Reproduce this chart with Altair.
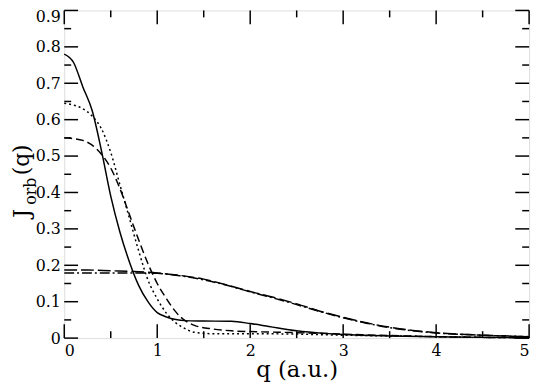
import altair as alt
import pandas as pd

# ---- data ----
solid_q = [0, 0.1, 0.2, 0.3, 0.4, 0.5, 0.6, 0.7, 0.8, 0.9, 1.0, 1.1, 1.2, 1.3, 1.5, 1.8, 2.0, 2.2, 2.5, 2.8, 3.0, 3.5, 4.0, 4.5, 5.0]
solid_v = [0.78, 0.757, 0.69, 0.625, 0.515, 0.39, 0.29, 0.21, 0.145, 0.10, 0.07, 0.058, 0.051, 0.048, 0.047, 0.046, 0.040, 0.032, 0.020, 0.013, 0.010, 0.006, 0.004, 0.002, 0.001]

dot_q = [0, 0.1, 0.2, 0.3, 0.4, 0.5, 0.6, 0.7, 0.8, 0.9, 1.0, 1.1, 1.2, 1.3, 1.4, 1.6, 2.0, 2.5, 3.0, 3.5, 4.0, 4.5, 5.0]
dot_v = [0.645, 0.64, 0.63, 0.61, 0.575, 0.51, 0.42, 0.33, 0.24, 0.16, 0.108, 0.068, 0.042, 0.026, 0.016, 0.012, 0.012, 0.011, 0.008, 0.006, 0.004, 0.002, 0.001]

dash_q = [0, 0.1, 0.2, 0.3, 0.4, 0.5, 0.6, 0.7, 0.8, 0.9, 1.0, 1.1, 1.2, 1.3, 1.4, 1.6, 1.8, 2.0, 2.5, 3.0, 3.5, 4.0, 4.5, 5.0]
dash_v = [0.55, 0.548, 0.543, 0.53, 0.505, 0.467, 0.41, 0.34, 0.27, 0.205, 0.15, 0.108, 0.072, 0.048, 0.035, 0.025, 0.02, 0.018, 0.015, 0.011, 0.007, 0.004, 0.002, 0.001]

flat_q = [0, 0.25, 0.5, 0.75, 1.0, 1.25, 1.5, 1.75, 2.0, 2.25, 2.5, 2.75, 3.0, 3.25, 3.5, 3.75, 4.0, 4.5, 5.0]
longdash_v = [0.187, 0.187, 0.185, 0.183, 0.179, 0.172, 0.162, 0.146, 0.128, 0.112, 0.094, 0.074, 0.057, 0.042, 0.030, 0.021, 0.015, 0.008, 0.004]
dashdot_v = [0.179, 0.179, 0.179, 0.179, 0.178, 0.171, 0.160, 0.145, 0.127, 0.110, 0.092, 0.073, 0.056, 0.041, 0.029, 0.020, 0.014, 0.008, 0.004]

x_major = [0, 1, 2, 3, 4, 5]
x_minor = [0.5, 1.5, 2.5, 3.5, 4.5]
y_major = [0, 0.1, 0.2, 0.3, 0.4, 0.5, 0.6, 0.7, 0.8, 0.9]
y_minor = [0.05, 0.15, 0.25, 0.35, 0.45, 0.55, 0.65, 0.75, 0.85]

x_title = "q (a.u.)"
y_title_parts = ["J", "orb", "(q)"]

W, H = 471, 332
FONT = "DejaVu Serif"

xs = alt.Scale(domain=[0, 5], nice=False, zero=False)
ys = alt.Scale(domain=[0, 0.9], nice=False, zero=False)

xaxis = alt.Axis(values=x_major, format="d", ticks=False, domain=False, grid=False,
                 labelFont=FONT, labelFontSize=16, labelPadding=5, labelColor="black",
                 title=x_title, titleFont=FONT, titleFontSize=23, titleFontWeight="normal",
                 titleColor="black", titleY=39, titleBaseline="alphabetic")
yaxis = alt.Axis(values=y_major, ticks=False, domain=False, grid=False,
                 labelExpr="datum.value == 0 ? '0' : format(datum.value, '.1f')",
                 labelOffset=alt.ExprRef(expr="datum.value > 0.85 ? 6 : 0"),
                 labelFont=FONT, labelFontSize=16, labelPadding=4, labelColor="black",
                 title=None)

def X():
    return alt.X("q:Q", scale=xs, axis=xaxis)

def Y():
    return alt.Y("v:Q", scale=ys, axis=yaxis)

def line(qs, vs, dash=None):
    df = pd.DataFrame({"q": qs, "v": vs})
    kw = dict(color="black", strokeWidth=1.5, interpolate="monotone")
    if dash:
        kw["strokeDash"] = dash
    return alt.Chart(df).mark_line(**kw).encode(x=X(), y=Y())

layers = [
    line(solid_q, solid_v),
    line(dot_q, dot_v, [2, 3]),
    line(dash_q, dash_v, [8, 4]),
    line(flat_q, longdash_v, [13, 4]),
    line(flat_q, dashdot_v, [10, 3, 2, 3]),
]

# inward ticks on all four sides
xmaj = pd.DataFrame({"q": x_major})
xmin = pd.DataFrame({"q": x_minor})
ymaj = pd.DataFrame({"v": y_major})
ymin = pd.DataFrame({"v": y_minor})
tk = dict(color="black", strokeWidth=1.5)
for df, L in [(xmaj, 14), (xmin, 7)]:
    layers.append(alt.Chart(df).mark_rule(**tk).encode(x=X(), y=alt.value(H), y2=alt.value(H - L)))
    layers.append(alt.Chart(df).mark_rule(**tk).encode(x=X(), y=alt.value(0), y2=alt.value(L)))
for df, L in [(ymaj, 14), (ymin, 7)]:
    layers.append(alt.Chart(df).mark_rule(**tk).encode(y=Y(), x=alt.value(0), x2=alt.value(L)))
    layers.append(alt.Chart(df).mark_rule(**tk).encode(y=Y(), x=alt.value(W - L), x2=alt.value(W)))

# y-axis title with subscript
layers.append(alt.Chart(pd.DataFrame({"t": [y_title_parts[0]]})).mark_text(
    font=FONT, fontSize=22, angle=270, align="left", baseline="alphabetic", color="black"
).encode(text="t:N", x=alt.value(-36), y=alt.value(210)))
layers.append(alt.Chart(pd.DataFrame({"t": [y_title_parts[1]]})).mark_text(
    font=FONT, fontSize=16, angle=270, align="left", baseline="alphabetic", color="black"
).encode(text="t:N", x=alt.value(-29), y=alt.value(197)))
layers.append(alt.Chart(pd.DataFrame({"t": [y_title_parts[2]]})).mark_text(
    font=FONT, fontSize=22, angle=270, align="left", baseline="alphabetic", color="black"
).encode(text="t:N", x=alt.value(-36), y=alt.value(167)))

chart = alt.layer(*layers).properties(
    width=W, height=H,
    autosize=alt.AutoSizeParams(type="none"),
    padding={"left": 57, "top": 0, "right": 8, "bottom": 42},
).configure_view(stroke="black", strokeWidth=2).configure(background="white")

chart.save("out.html", embed_options={"renderer": "svg", "actions": False})
